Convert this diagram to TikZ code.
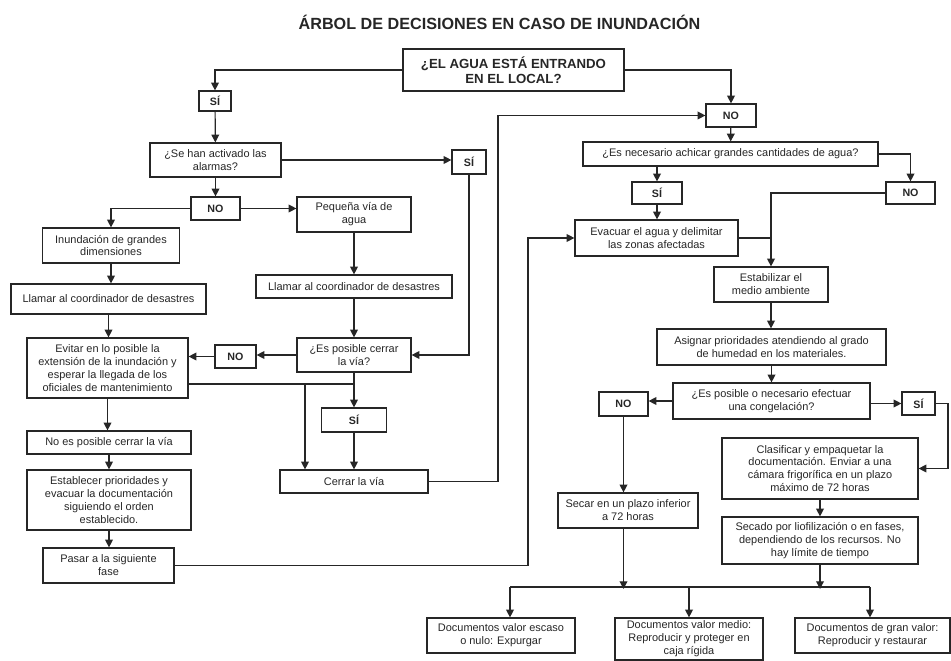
\documentclass[tikz,border=0pt]{standalone}
\usepackage{fontspec}
\setmainfont{Liberation Sans}
\usetikzlibrary{arrows.meta}
\newcommand{\upx}{0.025cm}

\begin{document}
\begin{tikzpicture}[x=0.025cm, y=-0.025cm, line width=0.85pt, color=black!85,
  box/.style={draw, align=center, inner sep=0pt, font=\fontsize{7.8}{9.2}\selectfont},
  tag/.style={box, font=\fontsize{7.6}{9}\selectfont\bfseries},
  wh/.style 2 args={minimum width=#1*\upx, minimum height=#2*\upx},
  arr/.style={-{Triangle[length=5.5pt,width=5.5pt]}}]
\useasboundingbox (0,0) rectangle (951,661);
\node[font=\fontsize{11.5}{13}\selectfont\bfseries] (title) at (499.5,22) {ÁRBOL DE DECISIONES EN CASO DE INUNDACIÓN};

% left branch
\node[box, wh={221}{42}, font=\fontsize{9.4}{10.8}\selectfont\bfseries] (agua) at (513.5,70) {¿EL AGUA ESTÁ ENTRANDO\\EN EL LOCAL?};
\node[tag, wh={32}{20}] (si1) at (215,101) {SÍ};
\node[box, wh={131}{34}] (alarmas) at (215.5,160) {¿Se han activado las\\alarmas?};
\node[tag, wh={34}{24}] (si2) at (469,162) {SÍ};
\node[tag, wh={49}{23}] (no2) at (215.5,208.5) {NO};
\node[box, wh={114}{35}] (pequena) at (354,214.5) {Pequeña vía de\\agua};
\node[box, wh={137}{35}] (inund) at (111,245.5) {Inundación de grandes\\dimensiones};
\node[box, wh={195}{30}] (llamarA) at (108.5,299) {Llamar al coordinador de desastres};
\node[box, wh={161}{60}] (evitar) at (107.5,368) {Evitar en lo posible la\\extensión de la inundación y\\esperar la llegada de los\\oficiales de mantenimiento};
\node[box, wh={196}{23}] (llamarB) at (354,286.5) {Llamar al coordinador de desastres};
\node[box, wh={114}{34}] (cerrarq) at (354,355) {¿Es posible cerrar\\la vía?};
\node[tag, wh={41}{23}] (no3) at (235.5,356.5) {NO};
\node[tag, wh={65}{24}] (si3) at (354,420) {SÍ};
\node[box, wh={148}{23}] (cerrar) at (354,481.5) {Cerrar la vía};
\node[box, wh={164}{23}] (noposible) at (109,442.5) {No es posible cerrar la vía};
\node[box, wh={164}{60}] (establecer) at (109,500) {Establecer prioridades y\\evacuar la documentación\\siguiendo el orden\\establecido.};
\node[box, wh={131}{35}] (pasar) at (108.5,565.5) {Pasar a la siguiente\\fase};

% right branch
\node[tag, wh={50}{23}] (no1) at (731,115.5) {NO};
\node[box, wh={295}{24}] (achicar) at (730.5,154) {¿Es necesario achicar grandes cantidades de agua?};
\node[tag, wh={50}{22}] (si4) at (657,193) {SÍ};
\node[tag, wh={49}{22}] (no4) at (910.5,193) {NO};
\node[box, wh={163}{36}] (evacuar) at (656.5,238) {Evacuar el agua y delimitar\\las zonas afectadas};
\node[box, wh={114}{35}] (estab) at (771,284.5) {Estabilizar el\\medio ambiente};
\node[box, wh={229}{36}] (asignar) at (771.5,347) {Asignar prioridades atendiendo al grado\\de humedad en los materiales.};
\node[box, wh={197}{36}] (congel) at (771.5,401) {¿Es posible o necesario efectuar\\una congelación?};
\node[tag, wh={49}{24}] (no5) at (623.5,404) {NO};
\node[tag, wh={33}{23}] (si5) at (918.5,403.5) {SÍ};
\node[box, wh={196}{61}] (clasif) at (820,468.5) {Clasificar y empaquetar la\\documentación. Enviar a una\\cámara frigorífica en un plazo\\máximo de 72 horas};
\node[box, wh={196}{47}] (secado) at (820,540.5) {Secado por liofilización o en fases,\\dependiendo de los recursos. No\\hay límite de tiempo};
\node[box, wh={140}{35}] (secar) at (628,510.5) {Secar en un plazo inferior\\a 72 horas};
\node[box, wh={148}{35}] (doc1) at (501,635.5) {Documentos valor escaso\\o nulo: Expurgar};
\node[box, wh={148}{42}] (doc2) at (689,639) {Documentos valor medio:\\Reproducir y proteger en\\caja rígida};
\node[box, wh={155}{35}] (doc3) at (872.5,635.5) {Documentos de gran valor:\\Reproducir y restaurar};

\coordinate (j1) at (354,384);
\coordinate (j2) at (305,384);
\coordinate (rail1) at (498,0);
\coordinate (rail2) at (528,0);
\coordinate (rail3) at (948,0);
\coordinate (b1) at (510,587);
\coordinate (b3) at (870,587);

\draw[arr] (agua.west) -| (si1);
\draw[arr] (agua.east) -| (no1);
\draw[arr] (si1) -- (alarmas);
\draw[arr] (alarmas.east) -- (alarmas.east -| si2.west);
\draw[arr] (alarmas) -- (no2);
\draw[arr] (no2.east) -- (no2.east -| pequena.west);
\draw[arr] (no2.west) -| (inund);
\draw[arr] (inund.south) -- (inund.south |- llamarA.north);
\draw[arr] (llamarA.south) -- (llamarA.south |- evitar.north);
\draw[arr] (evitar.south) -- (evitar.south |- noposible.north);
\draw[arr] (noposible.south) -- (noposible.south |- establecer.north);
\draw[arr] (establecer.south) -- (establecer.south |- pasar.north);
\draw[arr] (pequena) -- (llamarB);
\draw[arr] (llamarB) -- (cerrarq);
\draw[arr] (si2.south) |- (cerrarq.east);
\draw[arr] (cerrarq.west) -- (cerrarq.west -| no3.east);
\draw[arr] (no3.west) -- (no3.west -| evitar.east);
\draw[arr] (cerrarq) -- (si3);
\draw (evitar.east |- j1) -- (j1);
\draw[arr] (j2) -- (j2 |- cerrar.north);
\draw[arr] (si3) -- (cerrar);
\draw[arr] (cerrar.east) -- (cerrar.east -| rail1) |- (no1.west);
\draw[arr] (pasar.east) -- (pasar.east -| rail2) |- (evacuar.west);

\draw[arr] (no1) -- (achicar);
\draw[arr] (achicar.south -| si4) -- (si4);
\draw[arr] (achicar.east) -| (no4);
\draw[arr] (si4) -- (si4 |- evacuar.north);
\draw[arr] (no4.west) -| (estab);
\draw (evacuar.east) -- (evacuar.east -| estab);
\draw[arr] (estab.south) -- (estab.south |- asignar.north);
\draw[arr] (asignar.south) -- (asignar.south |- congel.north);
\draw[arr] (congel.west) -- (congel.west -| no5.east);
\draw[arr] (congel.east |- si5) -- (si5);
\draw[arr] (si5.east) -- (si5.east -| rail3) |- (clasif.east);
\draw[arr] (clasif) -- (secado);
\draw[arr] (no5) -- (no5 |- secar.north);
\draw[arr] (no5 |- secar.south) -- ([yshift=-2*\upx]no5 |- b1);
\draw[arr] (secado) -- ([yshift=-2*\upx]secado |- b1);
\draw (b1) -- (b3);
\draw[arr] (b1) -- (b1 |- doc1.north);
\draw[arr] (doc2 |- b1) -- (doc2);
\draw[arr] (b3) -- (b3 |- doc3.north);
\end{tikzpicture}
\end{document}
